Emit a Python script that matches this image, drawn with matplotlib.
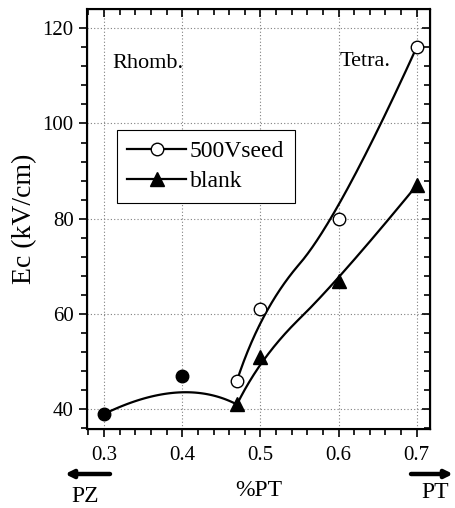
"""
Ec vs %PT のグラフを再現する
"""

import numpy as np
import matplotlib
matplotlib.use("Agg")
import matplotlib.pyplot as plt

# data
x_seed = [0.47, 0.5, 0.6, 0.7]
y_seed = [46, 61, 80, 116]
x_blank = [0.47, 0.5, 0.6, 0.7]
y_blank = [41, 51, 67, 87]
x_rhomb = [0.3, 0.4]
y_rhomb = [39, 47]
x_ticks = [0.3, 0.4, 0.5, 0.6, 0.7]
y_ticks = [40, 60, 80, 100, 120]


def bspline2(xs, ys, n=100):
    # 2次のBスプライン (両端固定)
    p = np.column_stack([xs, ys]).astype(float)
    t = np.linspace(0, 1, n)[:, None]
    out = []
    for i in range(1, len(p) - 1):
        a = p[0] if i == 1 else (p[i - 1] + p[i]) / 2
        b = p[i]
        c = p[-1] if i == len(p) - 2 else (p[i] + p[i + 1]) / 2
        out.append((1 - t) ** 2 * a + 2 * t * (1 - t) * b + t ** 2 * c)
    out = np.vstack(out)
    return out[:, 0], out[:, 1]


plt.rcParams["font.family"] = ["Liberation Serif", "DejaVu Serif"]

fig = plt.figure(figsize=(4.55, 5.08), dpi=100)
ax = fig.add_axes([0.191, 0.155, 0.754, 0.827])

lw = 1.6
# 左側の曲線 (Rhomb.)
cx, cy = bspline2(x_rhomb + [x_blank[0]], y_rhomb + [y_blank[0]])
ax.plot(cx, cy, color="black", lw=lw)
ax.plot(x_rhomb, y_rhomb, "o", color="black", ms=9)

sx, sy = bspline2(x_seed, y_seed)
ax.plot(sx, sy, color="black", lw=lw)
bx, by = bspline2(x_blank, y_blank)
ax.plot(bx, by, color="black", lw=lw)

ax.plot(x_seed, y_seed, "o", mfc="white", mec="black", mew=1.0, ms=9)
ax.plot(x_blank, y_blank, "^", color="black", ms=10)

# legend handles
h1, = ax.plot([], [], "-o", color="black", mfc="white", mec="black", lw=lw, ms=9)
h2, = ax.plot([], [], "-^", color="black", lw=lw, ms=10)
leg = ax.legend([h1, h2], ["500Vseed", "blank"], loc="upper left",
                bbox_to_anchor=(0.087, 0.712), borderaxespad=0,
                fontsize=17, handlelength=2.5, handletextpad=0.15,
                fancybox=False, framealpha=1, edgecolor="black",
                borderpad=0.45, labelspacing=0.35)
leg.get_frame().set_linewidth(0.8)

ax.set_xlim(0.278, 0.717)
ax.set_ylim(35.8, 124)
ax.set_xticks(x_ticks)
ax.set_xticklabels([str(v) for v in x_ticks])
ax.set_yticks(y_ticks)
ax.set_xticks(np.arange(0.28, 0.72, 0.02), minor=True)
ax.set_yticks(np.arange(36, 124, 4), minor=True)
ax.tick_params(which="both", direction="out", labelsize=15, width=1.2)
ax.tick_params(which="major", length=6)
ax.tick_params(which="minor", length=4)
ax.tick_params(axis="x", pad=6)
ax.grid(True, which="major", color="gray", ls=(0, (1, 2)), lw=0.8)
for s in ax.spines.values():
    s.set_linewidth(1.5)

# 上と右の目盛り (内向き)
axr = ax.twinx()
axr.set_ylim(ax.get_ylim())
axr.set_yticks(y_ticks)
axr.set_yticks(np.arange(36, 124, 4), minor=True)
axr.tick_params(which="both", direction="in", labelright=False, width=1.2)
axr.tick_params(which="major", length=6)
axr.tick_params(which="minor", length=4)
axt = ax.twiny()
axt.set_xlim(ax.get_xlim())
axt.set_xticks(x_ticks)
axt.set_xticks(np.arange(0.28, 0.72, 0.02), minor=True)
axt.tick_params(which="both", direction="in", labeltop=False, width=1.2)
axt.tick_params(which="major", length=6)
axt.tick_params(which="minor", length=4)

ax.set_ylabel("Ec (kV/cm)", fontsize=20, labelpad=4)
fig.text(112 / 455, 1 - 63 / 508, "Rhomb.", fontsize=16, va="center", ha="left")
fig.text(340 / 455, 1 - 62 / 508, "Tetra.", fontsize=16, va="center", ha="left")

# 下の矢印とラベル
fig.text(259 / 455, 18 / 508, "%PT", fontsize=17, ha="center", va="center")
fig.text(85 / 455, 12 / 508, "PZ", fontsize=17, ha="center", va="center")
fig.text(435 / 455, 15 / 508, "PT", fontsize=17, ha="center", va="center")
ap = dict(arrowstyle="-|>", lw=3.2, color="black", mutation_scale=11, shrinkA=0, shrinkB=0)
ax.annotate("", xy=(65 / 455, 34 / 508), xytext=(110 / 455, 34 / 508),
            xycoords="figure fraction", textcoords="figure fraction",
            arrowprops=ap, annotation_clip=False)
ax.annotate("", xy=(453 / 455, 34 / 508), xytext=(411 / 455, 34 / 508),
            xycoords="figure fraction", textcoords="figure fraction",
            arrowprops=ap, annotation_clip=False)

fig.savefig("out.png", dpi=100)
